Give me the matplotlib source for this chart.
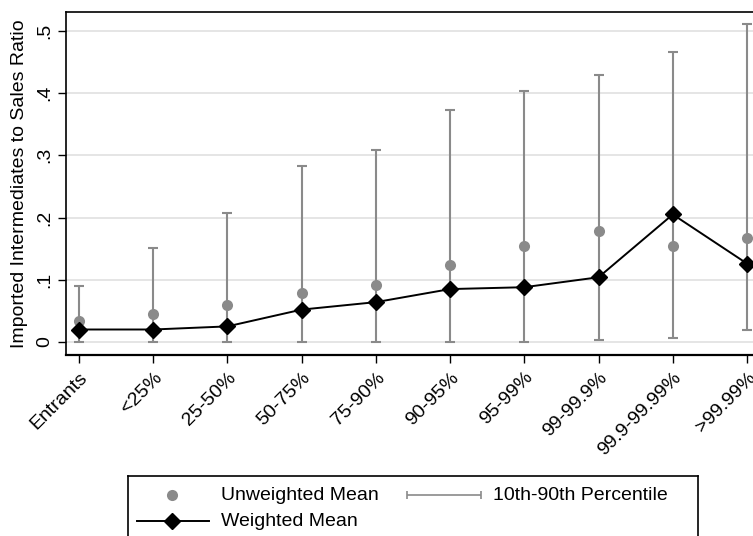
import matplotlib
matplotlib.use("Agg")
import matplotlib.pyplot as plt
from matplotlib.lines import Line2D
import numpy as np

plt.rcParams['font.family'] = ['Liberation Sans', 'DejaVu Sans']

categories = ["Entrants", "<25%", "25-50%", "50-75%", "75-90%", "90-95%",
              "95-99%", "99-99.9%", "99.9-99.99%", ">99.99%"]
unweighted_mean = [0.034, 0.045, 0.059, 0.079, 0.092, 0.124, 0.154, 0.179, 0.155, 0.167]
weighted_mean = [0.020, 0.020, 0.025, 0.052, 0.064, 0.085, 0.088, 0.104, 0.205, 0.126]
p10 = [0.0, 0.0, 0.0, 0.0, 0.0, 0.0, 0.0, 0.003, 0.007, 0.019]
p90 = [0.090, 0.151, 0.208, 0.283, 0.309, 0.373, 0.403, 0.430, 0.466, 0.511]
yticks = [0, 0.1, 0.2, 0.3, 0.4, 0.5]
ytick_labels = ["0", ".1", ".2", ".3", ".4", ".5"]

W, H = 753, 536
fig = plt.figure(figsize=(W / 100, H / 100), dpi=100)

def px_axes(x0, y0, x1, y1):
    return fig.add_axes([x0 / W, 1 - y1 / H, (x1 - x0) / W, (y1 - y0) / H])

ax = px_axes(66, 12, 760, 355)
x = np.arange(len(categories))
grey = '#8a8a8a'

for y in yticks:
    ax.axhline(y, color='#e3e3e3', lw=1.3, zorder=0)

lo = np.array(unweighted_mean) - np.array(p10)
hi = np.array(p90) - np.array(unweighted_mean)
ax.errorbar(x, unweighted_mean, yerr=[lo, hi], fmt='none', ecolor=grey,
            elinewidth=1.5, capsize=3.5, capthick=1.5, zorder=2)
ax.plot(x, unweighted_mean, 'o', color=grey, ms=8, mec='none', zorder=3)
ax.plot(x, weighted_mean, '-D', color='black', lw=1.4, ms=8, zorder=4)

ax.set_xlim(-0.175, 9.175)
ax.set_ylim(-0.021, 0.5305)
ax.set_yticks(yticks)
ax.set_yticklabels(ytick_labels, rotation=90, va='center', fontsize=14)
ax.set_xticks(x)
ax.set_xticklabels(categories, rotation=45, ha='right', va='top',
                   rotation_mode='anchor', fontsize=14)
ax.tick_params(axis='both', direction='out', length=6, width=1, color='black')
ax.tick_params(axis='x', pad=4)
ax.tick_params(axis='y', pad=3)
for s in ax.spines.values():
    s.set_color('black')
    s.set_linewidth(1.2)
ax.spines['bottom'].set_linewidth(1.6)
ax.set_ylabel("Imported Intermediates to Sales Ratio", fontsize=14, labelpad=6)

# legend box
lg = px_axes(128, 476, 698, 560)
lg.set_xlim(128, 698)
lg.set_ylim(560, 476)
lg.set_xticks([])
lg.set_yticks([])
for s in lg.spines.values():
    s.set_color('black')
    s.set_linewidth(1.2)
lg.plot([172], [495], 'o', color=grey, ms=8, mec='none')
lg.text(221, 495, "Unweighted Mean", va='center', ha='left', fontsize=14)
lg.errorbar([444], [495], xerr=[[37], [37]], fmt='none', ecolor=grey,
            elinewidth=1.2, capsize=3, capthick=1.2)
lg.text(493, 495, "10th-90th Percentile", va='center', ha='left', fontsize=14)
lg.plot([137, 209], [521, 521], '-', color='black', lw=1.4)
lg.plot([172], [521], 'D', color='black', ms=8)
lg.text(221, 521, "Weighted Mean", va='center', ha='left', fontsize=14)

fig.savefig("out.png", dpi=100)
